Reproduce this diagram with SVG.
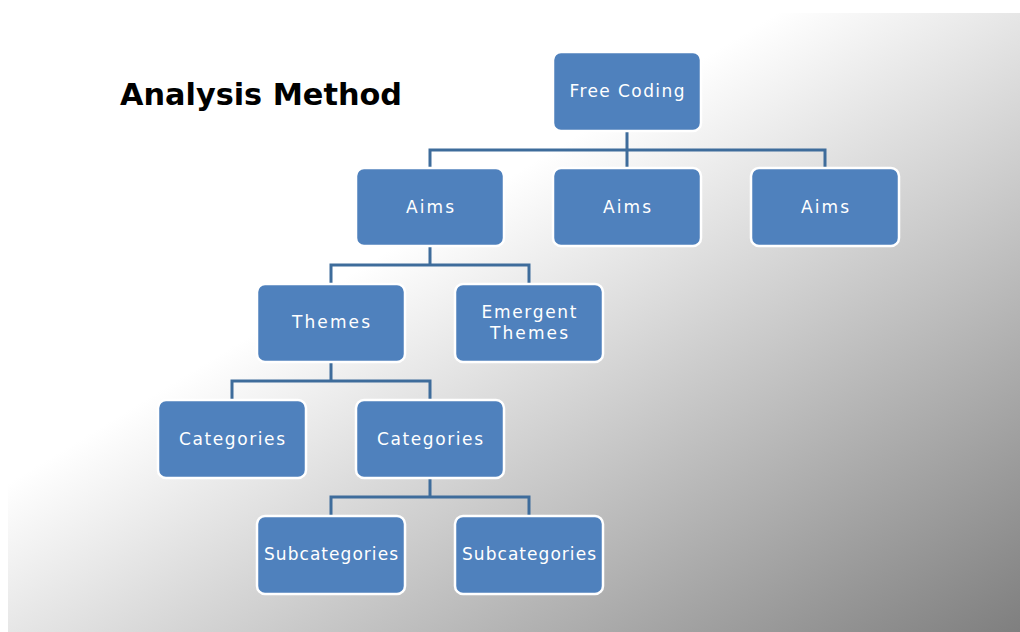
<svg xmlns="http://www.w3.org/2000/svg" width="1020" height="632" viewBox="0 0 1020 632">
<defs>
<linearGradient id="bg" x1="0" y1="0" x2="1" y2="1">
<stop offset="0" stop-color="#ffffff"/>
<stop offset="0.38" stop-color="#ffffff"/>
<stop offset="1" stop-color="#7f7f7f"/>
</linearGradient>
</defs>
<style>
.box{fill:#4f81bd;stroke:#ffffff;stroke-width:2.5}
.lbl{fill:#ffffff;font-family:"DejaVu Sans",Verdana,sans-serif;font-size:17px;text-anchor:middle}
.con{fill:none;stroke:#3e6c9b;stroke-width:3}
.title{fill:#000000;font-family:"DejaVu Sans",Verdana,sans-serif;font-size:30px;font-weight:bold}
</style>
<rect x="0" y="0" width="1020" height="632" fill="#ffffff"/>
<rect x="8" y="13" width="1012" height="619" fill="url(#bg)"/>
<text class="title" x="120" y="105" textLength="282" lengthAdjust="spacingAndGlyphs">Analysis Method</text>
<g id="connectors">
<path class="con" d="M627,131 V150 M430,168 V150 H825 V168 M627,150 V168"/>
<path class="con" d="M430,246 V265 M331,284 V265 H529 V284"/>
<path class="con" d="M331,362 V381 M232,400 V381 H430 V400"/>
<path class="con" d="M430,478 V497 M331,516 V497 H529 V516"/>
</g>
<g id="free-coding"><rect class="box" x="553" y="52" width="148" height="79" rx="8"/><text class="lbl" x="627" y="97" textLength="115" lengthAdjust="spacing">Free Coding</text></g>
<g id="aims-1"><rect class="box" x="356" y="168" width="148" height="78" rx="8"/><text class="lbl" x="430" y="213" textLength="48" lengthAdjust="spacing">Aims</text></g>
<g id="aims-2"><rect class="box" x="553" y="168" width="148" height="78" rx="8"/><text class="lbl" x="627" y="213" textLength="48" lengthAdjust="spacing">Aims</text></g>
<g id="aims-3"><rect class="box" x="751" y="168" width="148" height="78" rx="8"/><text class="lbl" x="825" y="213" textLength="48" lengthAdjust="spacing">Aims</text></g>
<g id="themes"><rect class="box" x="257" y="284" width="148" height="78" rx="8"/><text class="lbl" x="331" y="328" textLength="78" lengthAdjust="spacing">Themes</text></g>
<g id="emergent-themes"><rect class="box" x="455" y="284" width="148" height="78" rx="8"/><text class="lbl" x="529" y="318" textLength="95" lengthAdjust="spacing">Emergent</text><text class="lbl" x="529" y="339" textLength="78" lengthAdjust="spacing">Themes</text></g>
<g id="categories-1"><rect class="box" x="158" y="400" width="148" height="78" rx="8"/><text class="lbl" x="232" y="445" textLength="106" lengthAdjust="spacing">Categories</text></g>
<g id="categories-2"><rect class="box" x="356" y="400" width="148" height="78" rx="8"/><text class="lbl" x="430" y="445" textLength="106" lengthAdjust="spacing">Categories</text></g>
<g id="subcategories-1"><rect class="box" x="257" y="516" width="148" height="78" rx="8"/><text class="lbl" x="331" y="560" textLength="134" lengthAdjust="spacing">Subcategories</text></g>
<g id="subcategories-2"><rect class="box" x="455" y="516" width="148" height="78" rx="8"/><text class="lbl" x="529" y="560" textLength="134" lengthAdjust="spacing">Subcategories</text></g>
</svg>
